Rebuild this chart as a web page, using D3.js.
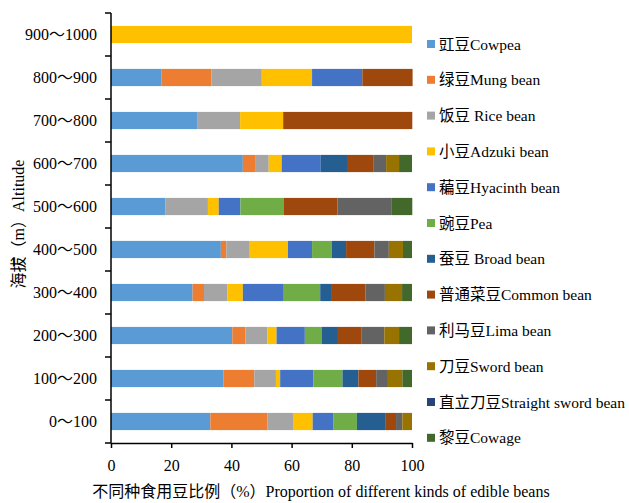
<!DOCTYPE html>
<html><head><meta charset="utf-8">
<script src="https://cdn.jsdelivr.net/npm/d3@7"></script>
<style>
body{margin:0;background:#fff;}
text{font-family:"Liberation Serif","Times New Roman","Noto Sans CJK SC",serif;fill:#000;}
</style></head>
<body>
<svg id="chart" width="629" height="503"></svg>
<script>
// Altitude categories (bottom to top)
const categories = ["0～100","100～200","200～300","300～400","400～500","500～600","600～700","700～800","800～900","900～1000"];
const seriesNames = ["豇豆Cowpea","绿豆Mung bean","饭豆 Rice bean","小豆Adzuki bean","藊豆Hyacinth bean","豌豆Pea","蚕豆 Broad bean","普通菜豆Common bean","利马豆Lima bean","刀豆Sword bean","直立刀豆Straight sword bean","黎豆Cowage"];
const cowpea   = [33.0, 37.3, 40.3, 27.1, 36.5, 18.0, 43.8, 28.6, 16.7, 0];
const mung     = [18.9, 10.3,  4.4,  3.8,  1.8,  0,    4.3,  0,   16.7, 0];
const rice     = [ 8.8,  7.2,  7.2,  7.7,  7.8, 14.2,  4.3, 14.3, 16.7, 0];
const adzuki   = [ 6.3,  1.4,  3.1,  5.2, 12.7,  3.6,  4.3, 14.3, 16.7, 100];
const hyacinth = [ 6.8, 11.0,  9.4, 13.6,  8.0,  7.2, 13.0,  0,   16.7, 0];
const pea      = [ 7.9,  9.7,  5.7, 12.1,  6.5, 14.3,  0,    0,    0,   0];
const broad    = [ 9.6,  5.3,  5.3,  3.6,  4.8,  0,    8.7,  0,    0,   0];
const common   = [ 3.4,  5.9,  7.9, 11.5,  9.4, 17.9,  8.7, 42.9, 16.7, 0];
const lima     = [ 2.1,  3.9,  7.5,  6.4,  4.8, 17.9,  4.3,  0,    0,   0];
const sword    = [ 3.2,  4.8,  4.9,  5.7,  4.7,  0,    4.3,  0,    0,   0];
const straight = [ 0,    0,    0,    0,    0,    0,    0,    0,    0,   0];
const cowage   = [ 0,    3.2,  4.3,  3.3,  3.0,  7.0,  4.3,  0,    0,   0];
const xTicks = [0,20,40,60,80,100];
const colors = ["#5B9BD5","#ED7D31","#A5A5A5","#FFC000","#4472C4","#70AD47","#255E91","#9E480E","#636363","#997300","#264478","#43682B"];

const seriesValues = [cowpea,mung,rice,adzuki,hyacinth,pea,broad,common,lima,sword,straight,cowage];
const keys = seriesValues.map((_,i)=>"s"+i);
const table = categories.map((c,ci)=>{
  const row={cat:c};
  seriesValues.forEach((arr,si)=>row[keys[si]]=arr[ci]);
  return row;
});
const stacked = d3.stack().keys(keys)(table);

const svg = d3.select("#chart");
const x = d3.scaleLinear().domain([0,100]).range([111,412]);
const y = d3.scaleBand().domain(categories.slice().reverse()).range([13,443]).paddingInner(0.6).paddingOuter(0.3);

svg.append("g").selectAll("g").data(stacked).join("g")
  .attr("fill",(d,i)=>colors[i])
  .selectAll("rect").data(d=>d).join("rect")
  .attr("x",d=>x(d[0])).attr("width",d=>Math.max(0,x(d[1])-x(d[0])))
  .attr("y",d=>y(d.data.cat)).attr("height",y.bandwidth());

// y axis
const yAxisG = svg.append("g");
yAxisG.append("line").attr("x1",x(0)).attr("x2",x(0)).attr("y1",13).attr("y2",443).attr("stroke","#000").attr("stroke-width",1.5);
const bounds = y.domain().map(c=>y(c)-y.step()*y.paddingInner()/2*0 - (y.step()-y.bandwidth())/2);
bounds.push(443);
yAxisG.selectAll(".yt").data(bounds).join("line")
  .attr("x1",x(0)-6).attr("x2",x(0)).attr("y1",d=>d).attr("y2",d=>d).attr("stroke","#000").attr("stroke-width",1.5);
yAxisG.selectAll(".yl").data(y.domain()).join("text")
  .attr("x",97).attr("y",d=>y(d)+y.bandwidth()/2+5.5)
  .attr("text-anchor","end").attr("font-size",16).text(d=>d);

// x axis
const xAxisG = svg.append("g").attr("transform","translate(0,443)")
  .call(d3.axisBottom(x).tickValues(xTicks).tickSize(5).tickSizeOuter(0));
xAxisG.select(".domain").attr("stroke","#000").attr("stroke-width",1.5);
xAxisG.selectAll(".tick line").attr("stroke","#000").attr("stroke-width",1.5);
xAxisG.selectAll(".tick text").attr("font-size",16).attr("dy",0).attr("y",28)
  .style("font-family","Liberation Serif");

// titles
svg.append("text").attr("transform","translate(24,224) rotate(-90)")
  .attr("text-anchor","middle").attr("font-size",16).text("海拔（m）Altitude");
svg.append("text").attr("x",321).attr("y",497).attr("text-anchor","middle").attr("font-size",16)
  .text("不同种食用豆比例（%）Proportion of different kinds of edible beans");

// legend
const lg = svg.append("g");
seriesNames.forEach((name,i)=>{
  const cy = 44 + i*35.8;
  lg.append("rect").attr("x",427).attr("y",cy-4).attr("width",8).attr("height",8).attr("fill",colors[i]);
  lg.append("text").attr("x",439).attr("y",cy+5.5).attr("font-size",15.5).text(name);
});
</script>
</body></html>
